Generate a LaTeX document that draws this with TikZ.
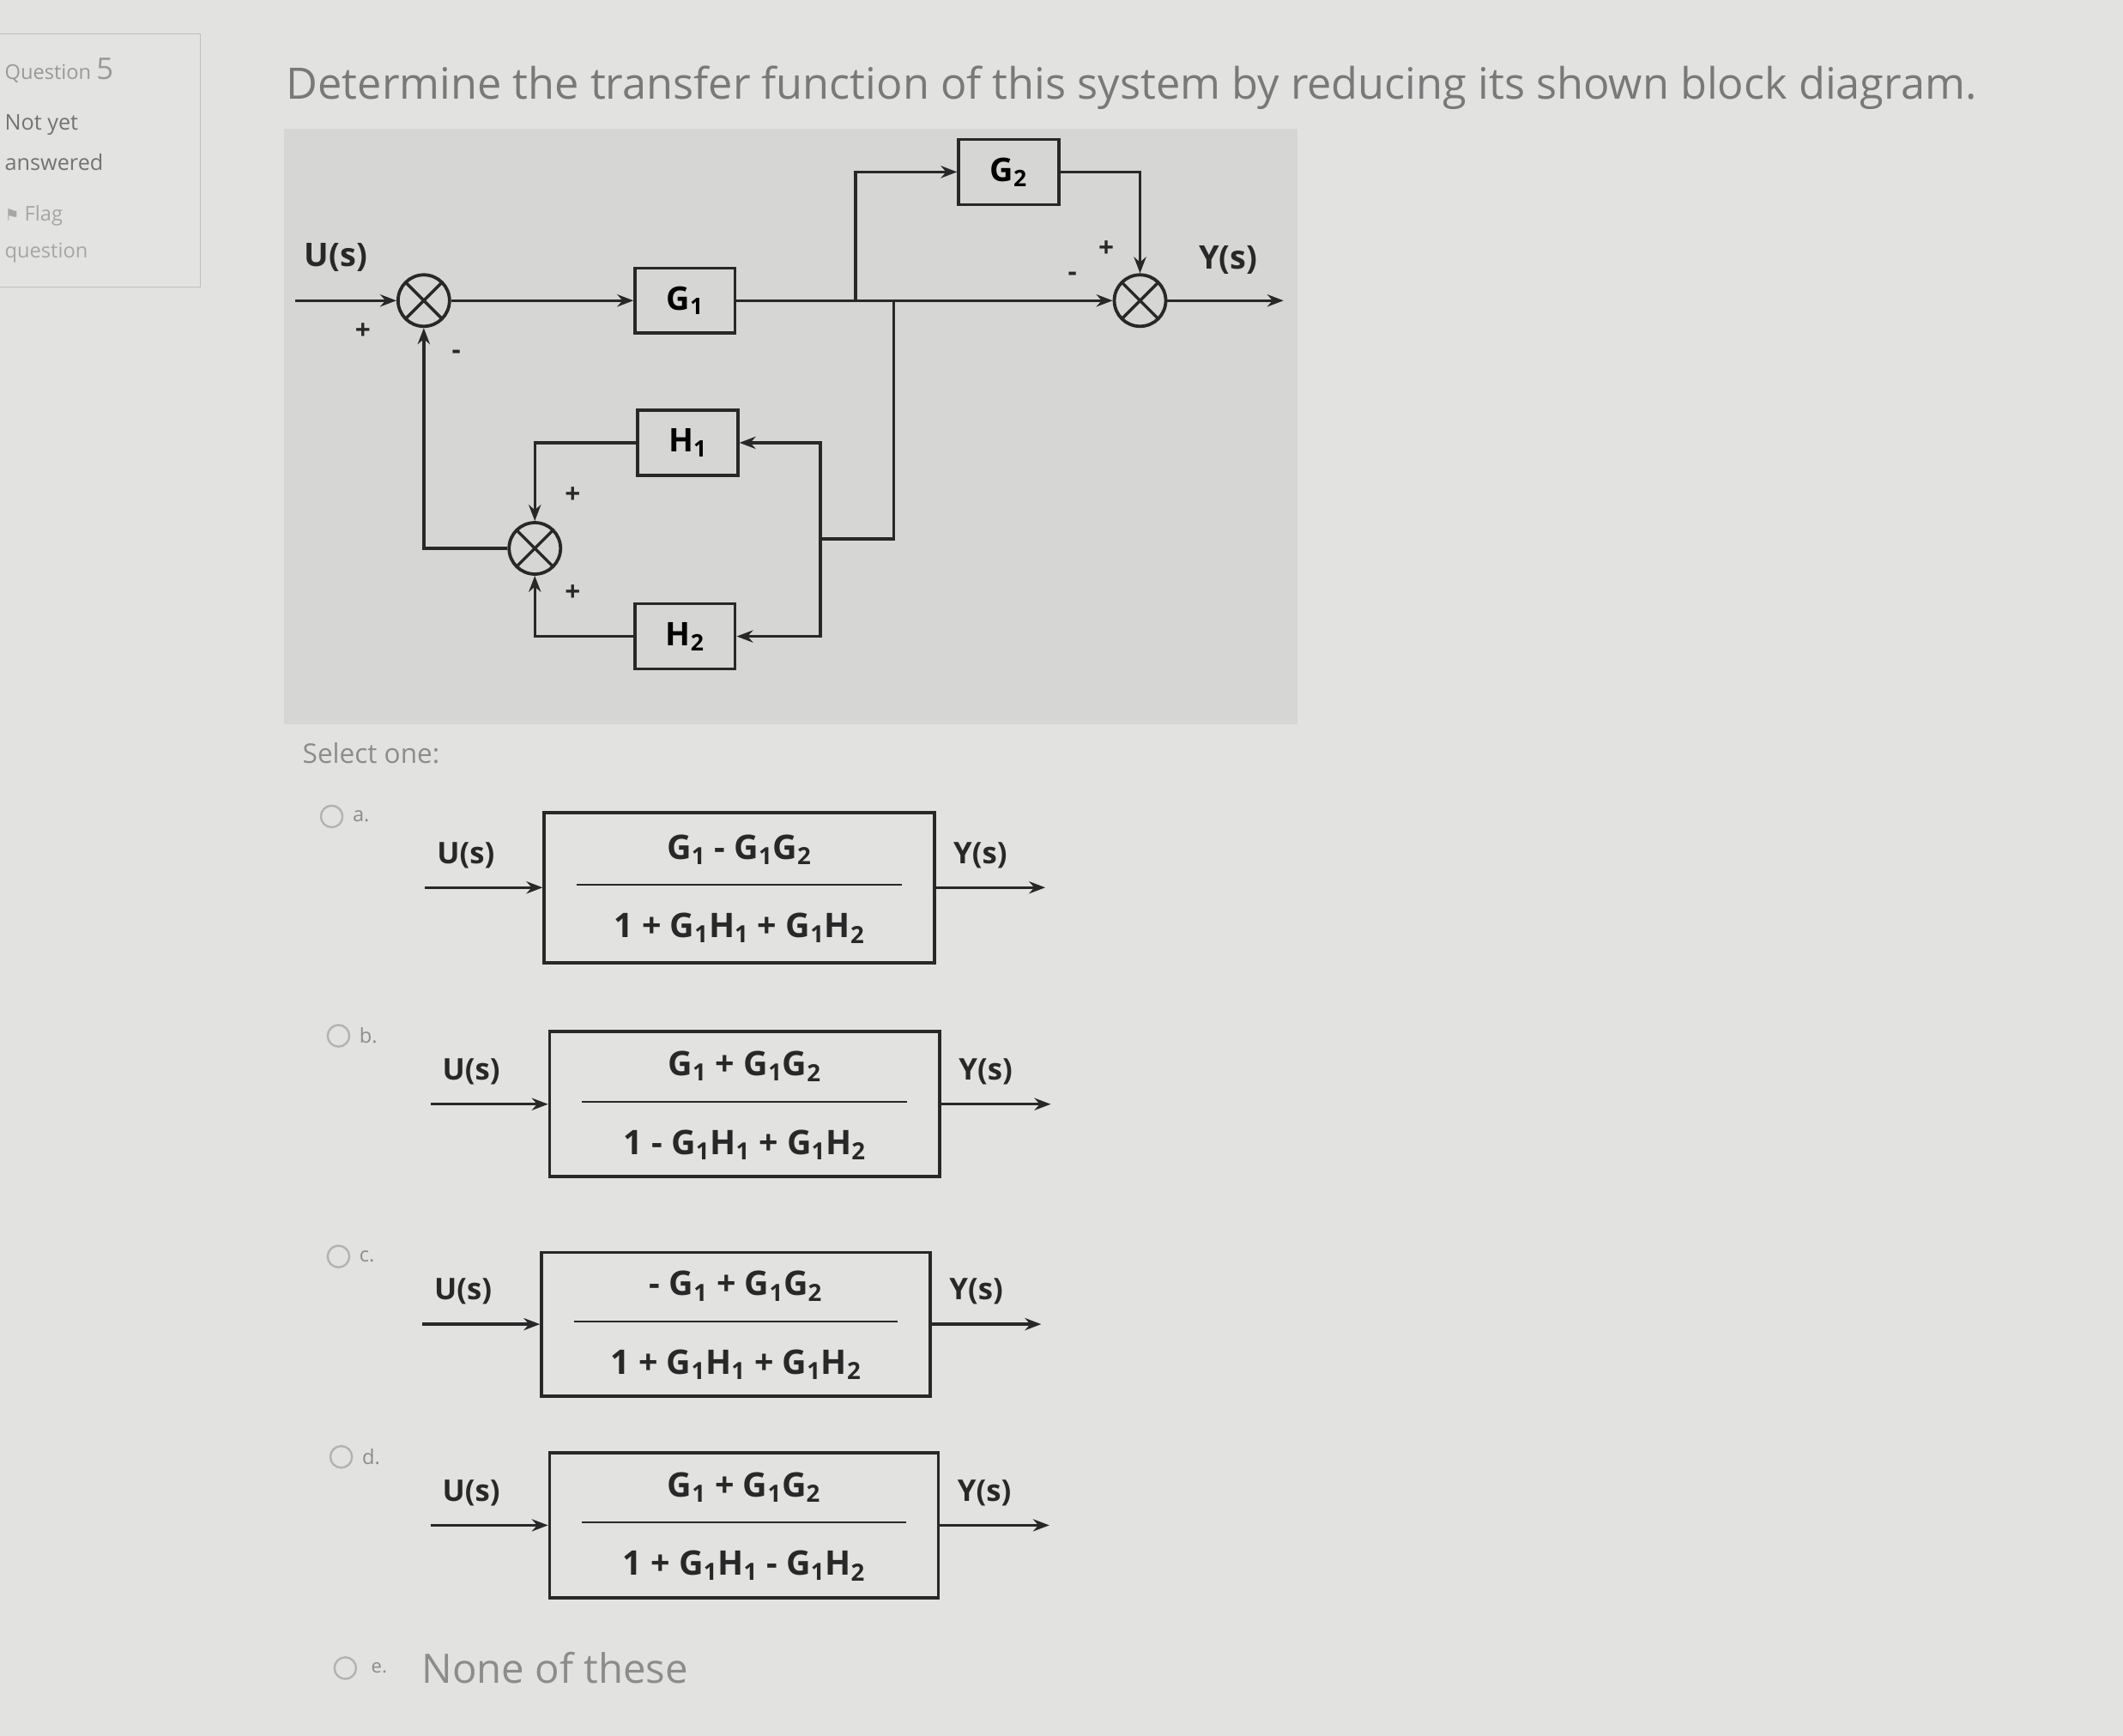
\documentclass[tikz,border=0pt]{standalone}
\usepackage{fontspec}
\setmainfont{Open Sans}
\newfontfamily\djv{DejaVu Sans}
\usetikzlibrary{arrows.meta}
\definecolor{bg}{RGB}{226,226,224}
\definecolor{panel}{RGB}{214,214,212}
\definecolor{ink}{RGB}{40,40,40}
\newcommand{\sbs}[1]{\textsubscript{#1}}
\begin{document}
\begin{tikzpicture}[x=1pt,y=-1pt,
  blk/.style={draw=ink,line width=2.2pt,minimum width=74pt,minimum height=48pt,font=\fontsize{24}{28}\selectfont\bfseries},
  sumj/.style={draw=ink,circle,line width=2.4pt,minimum size=38pt,inner sep=0pt,
    path picture={\draw[ink,line width=2.2pt] (path picture bounding box.north west)--(path picture bounding box.south east) (path picture bounding box.north east)--(path picture bounding box.south west);}},
  ln/.style={draw=ink,line width=2.2pt},
  ar/.style={ln,-{Stealth[length=12pt,width=9pt]}},
  lbl/.style={text=ink,font=\fontsize{24}{28}\selectfont\bfseries},
  sg/.style={text=ink,font=\fontsize{20}{24}\selectfont\bfseries},
  opt/.style={draw=ink,line width=2.4pt},
  fr/.style={text=ink,font=\fontsize{25}{30}\selectfont\bfseries},
  rad/.style={draw=gray!60,circle,line width=1.5pt,minimum size=16pt,inner sep=0pt},
  sel/.style={text=gray!90,font=\fontsize{20}{24}\selectfont}]
\path[fill=bg] (0,0) rectangle (1568,1282);
\useasboundingbox (0,0) rectangle (1568,1282);
% sidebar
\draw[gray!50,line width=1pt,fill=bg!95!white] (-5,25) rectangle (148,212);
\node[anchor=west,text=gray!80,font=\fontsize{15}{18}\selectfont] (q) at (0,52) {Question \fontsize{22}{24}\selectfont 5};
\node[anchor=west,text=gray!90!black,font=\fontsize{16}{18}\selectfont] (ny) at (0,92) {Not yet};
\node[anchor=west,text=gray!90!black,font=\fontsize{16}{18}\selectfont] (an) at (0,120) {answered};
\node[anchor=west,text=gray!70,font=\fontsize{15}{18}\selectfont] (fl) at (0,159) {{\djv\fontsize{12}{12}\selectfont ⚑} Flag};
\node[anchor=west,text=gray!70,font=\fontsize{15}{18}\selectfont] (fq) at (0,187) {question};
\node[anchor=west,text=gray!95!black,font=\fontsize{32}{38}\selectfont] (title) at (208,65) {Determine the transfer function of this system by reducing its shown block diagram.};
\path[fill=panel] (210,95) rectangle (958,535);
% diagram
\node[lbl] (U) at (248,190) {U(s)};
\node[sumj] (s1) at (313,222) {};
\node[blk] (G1) at (506,222) {G\sbs{1}};
\node[blk] (G2) at (745,127) {G\sbs{2}};
\node[blk] (H1) at (508,327) {H\sbs{1}};
\node[blk] (H2) at (506,470) {H\sbs{2}};
\node[sumj] (s2) at (842,222) {};
\node[sumj] (s3) at (395,405) {};
\node[lbl] (Y) at (907,192) {Y(s)};
\coordinate (in) at (218,222);
\coordinate (out) at (948,222);
\coordinate (b1) at (632,222);
\coordinate (b2) at (660,222);
\coordinate (r) at (606,398);
\draw[ar] (in) -- (s1);
\draw[ar] (s1) -- (G1);
\draw[ar] (G1) -- (s2);
\draw[ar] (b1) |- (G2.west);
\draw[ar] (G2.east) -| (s2.north);
\draw[ar] (s2) -- (out);
\draw[ln] (b2) |- (r);
\draw[ar] (r) |- (H1.east);
\draw[ar] (r) |- (H2.east);
\draw[ar] (H1.west) -| (s3.north);
\draw[ar] (H2.west) -| (s3.south);
\draw[ar] (s3.west) -| (s1.south);
\node[sg] (p1) at (268,245) {+};
\node[sg] (m1) at (337,262) {-};
\node[sg] (p2) at (817,184) {+};
\node[sg] (m2) at (792,204) {-};
\node[sg] (p3) at (423,366) {+};
\node[sg] (p4) at (423,438) {+};
\node[sel,anchor=west] (so) at (220,556) {Select one:};
% options
\foreach \n/\yt/\yb/\xl/\xr/\ul/\cy/\num/\den in {
 a/600/711/402/690/a./245/{G\sbs{1} - G\sbs{1}G\sbs{2}}/{1 + G\sbs{1}H\sbs{1} + G\sbs{1}H\sbs{2}},
 b/762/869/406/694/b./250/{G\sbs{1} + G\sbs{1}G\sbs{2}}/{1 - G\sbs{1}H\sbs{1} + G\sbs{1}H\sbs{2}},
 c/925/1031/400/687/c./250/{- G\sbs{1} + G\sbs{1}G\sbs{2}}/{1 + G\sbs{1}H\sbs{1} + G\sbs{1}H\sbs{2}},
 d/1073/1180/406/693/d./252/{G\sbs{1} + G\sbs{1}G\sbs{2}}/{1 + G\sbs{1}H\sbs{1} - G\sbs{1}H\sbs{2}}}{
 \pgfmathsetmacro{\ym}{(\yt+\yb)/2}
 \pgfmathsetmacro{\xm}{(\xl+\xr)/2}
 \node[opt,minimum width={\xr-\xl},minimum height={\yb-\yt},inner sep=0pt] (box\n) at (\xm,\ym) {};
 \draw[ink,line width=1.3pt] (\xl+24,\ym-2) -- (\xr-24,\ym-2);
 \node[fr] (num\n) at (\xm,\ym-28) {\num};
 \node[fr] (den\n) at (\xm,\ym+30) {\den};
 \node[rad] (r\n) at (\cy,\yt+3) {};
 \node[sel,anchor=west,font=\fontsize{15}{18}\selectfont] (l\n) at (\cy+12,\yt+3) {\ul};
 \coordinate (ui\n) at (\xl-88,\ym);
 \coordinate (yo\n) at (\xr+82,\ym);
 \draw[ar] (ui\n) -- (box\n.west);
 \draw[ar] (box\n.east) -- (yo\n);
 \node[text=ink,font=\fontsize{22}{26}\selectfont\bfseries] (U\n) at (\xl-58,\ym-24) {U(s)};
 \node[text=ink,font=\fontsize{22}{26}\selectfont\bfseries] (Y\n) at (\xr+34,\ym-24) {Y(s)};
}
\node[rad] (re) at (255,1232) {};
\node[sel,font=\fontsize{14}{16}\selectfont] (le) at (280,1232) {e.};
\node[sel,anchor=west,font=\fontsize{30}{36}\selectfont] (none) at (308,1232) {None of these};
\end{tikzpicture}
\end{document}
